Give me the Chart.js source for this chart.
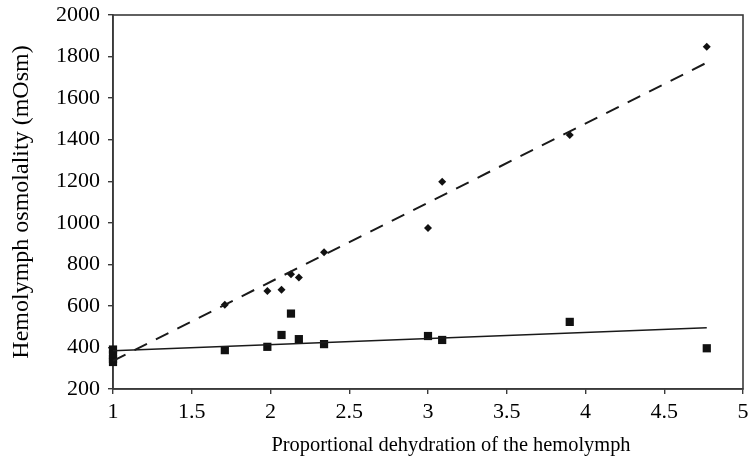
<!DOCTYPE html>
<html lang="en">
<head>
<meta charset="UTF-8">
<title>Hemolymph osmolality vs dehydration</title>
<script src="https://cdn.jsdelivr.net/npm/chart.js"></script>
<style>
  html, body { margin: 0; padding: 0; background: #fff; }
  #wrap { width: 749px; height: 463px; }
</style>
</head>
<body>
<div id="wrap"><canvas id="grafico"></canvas></div>
<script>
  // diamonds (upper series)
  const diamondX = [1, 1.71, 1.98, 2.07, 2.13, 2.18, 2.34, 3.0, 3.09, 3.9, 4.77];
  const diamondY = [330, 605, 672, 678, 752, 737, 858, 975, 1197, 1422, 1847];
  // squares (lower series)
  const squareX = [1, 1, 1, 1, 1.71, 1.98, 2.07, 2.13, 2.18, 2.34, 3.0, 3.09, 3.9, 4.77];
  const squareY = [390, 365, 345, 330, 387, 403, 460, 563, 440, 416, 455, 436, 523, 396];
  // trend lines (end points)
  const dashedX = [1, 4.76];
  const dashedY = [335, 1767];
  const solidX = [1, 4.77];
  const solidY = [384, 495];

  const xTitle = 'Proportional dehydration of the hemolymph';
  const yTitle = 'Hemolymph osmolality (mOsm)';

  const pts = (xs, ys) => xs.map((x, i) => ({ x: x, y: ys[i] }));
  const serif = "'Liberation Serif', 'Times New Roman', serif";
  const ink = '#111';
  const frame = '#3a3a3a';

  // caixa completa em volta da área do gráfico
  const moldura = {
    id: 'moldura',
    beforeDatasetsDraw(chart) {
      const a = chart.chartArea;
      const ctx = chart.ctx;
      ctx.save();
      ctx.strokeStyle = frame;
      ctx.lineWidth = 1.6;
      ctx.strokeRect(a.left, a.top, a.right - a.left, a.bottom - a.top);
      ctx.restore();
    }
  };

  // título do eixo x, um pouco deslocado para a direita como no original
  const tituloX = {
    id: 'tituloX',
    afterDraw(chart) {
      const a = chart.chartArea;
      const ctx = chart.ctx;
      ctx.save();
      ctx.fillStyle = '#000';
      ctx.font = '20.4px ' + serif;
      ctx.textAlign = 'center';
      ctx.textBaseline = 'middle';
      ctx.fillText(xTitle, (a.left + a.right) / 2 + 23, 446);
      ctx.restore();
    }
  };

  // tira o espaço extra que o Chart.js reserva para os rótulos das pontas
  const semSobra = s => {
    s.paddingTop = 0;
    s.paddingRight = 0;
  };

  new Chart(document.getElementById('grafico'), {
    type: 'scatter',
    data: {
      datasets: [
        {
          type: 'line',
          data: pts(dashedX, dashedY),
          borderColor: '#1a1a1a',
          borderWidth: 2,
          borderDash: [14, 10],
          pointRadius: 0,
          fill: false,
          clip: false
        },
        {
          type: 'line',
          data: pts(solidX, solidY),
          borderColor: '#1a1a1a',
          borderWidth: 1.4,
          pointRadius: 0,
          fill: false,
          clip: false
        },
        {
          data: pts(diamondX, diamondY),
          pointStyle: 'rectRot',
          pointRadius: 4,
          backgroundColor: ink,
          borderColor: ink,
          borderWidth: 0,
          clip: false
        },
        {
          data: pts(squareX, squareY),
          pointStyle: 'rect',
          pointRadius: 5.8,
          backgroundColor: ink,
          borderColor: ink,
          borderWidth: 0,
          clip: false
        }
      ]
    },
    options: {
      responsive: true,
      maintainAspectRatio: false,
      animation: false,
      layout: { padding: { top: 15, right: 6, left: 0, bottom: 0 } },
      plugins: {
        legend: { display: false },
        tooltip: { enabled: false }
      },
      scales: {
        x: {
          type: 'linear',
          min: 1,
          max: 5,
          afterFit: s => { s.height = 74; semSobra(s); },
          border: { display: true, color: frame, width: 1.6 },
          grid: { drawOnChartArea: false, drawTicks: true, tickLength: 5, color: frame, lineWidth: 1.4 },
          ticks: {
            stepSize: 0.5, color: '#000', padding: 5, maxRotation: 0,
            font: { family: serif, size: 22 },
            callback: v => String(v)
          },
          title: { display: false, text: xTitle }
        },
        y: {
          min: 200,
          max: 2000,
          afterFit: s => { s.width = 113; semSobra(s); },
          border: { display: true, color: frame, width: 1.6 },
          grid: { drawOnChartArea: false, drawTicks: true, tickLength: 5, color: frame, lineWidth: 1.4 },
          ticks: {
            stepSize: 200, color: '#000', padding: 8,
            font: { family: serif, size: 22 },
            callback: v => String(v)
          },
          title: {
            display: true,
            text: yTitle,
            color: '#000',
            padding: { top: 7, bottom: 0 },
            font: { family: serif, size: 24 }
          }
        }
      }
    },
    plugins: [moldura, tituloX]
  });
</script>
</body>
</html>
